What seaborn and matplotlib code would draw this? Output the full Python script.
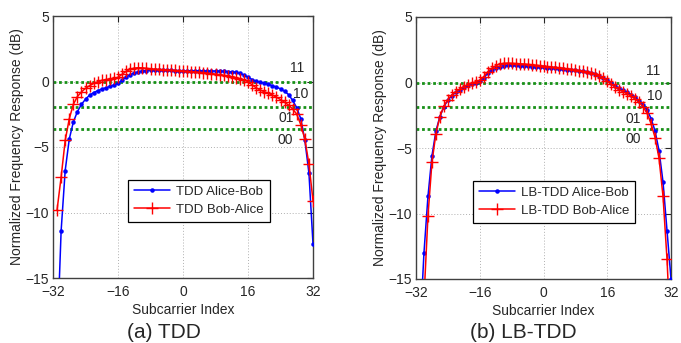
import numpy as np
import pandas as pd
import matplotlib
matplotlib.use("Agg")
import matplotlib.pyplot as plt
import seaborn as sns

# ---------------- data ----------------
subcarriers = list(range(-31, 33))

tdd_alice_bob = [-20.0, -11.4, -6.8, -4.4, -3.1, -2.3, -1.75, -1.35, -1.05, -0.85,
                 -0.7, -0.58, -0.48, -0.38, -0.28, -0.15, 0.1, 0.35, 0.52, 0.65,
                 0.74, 0.8, 0.83, 0.85, 0.85, 0.85, 0.85, 0.84, 0.84, 0.83,
                 0.83, 0.82, 0.82, 0.82, 0.82, 0.81, 0.81, 0.8, 0.8, 0.8,
                 0.79, 0.78, 0.76, 0.74, 0.7, 0.62, 0.5, 0.33, 0.15, 0.02,
                 -0.05, -0.13, -0.22, -0.32, -0.43, -0.56, -0.75, -1.0, -1.45, -2.0,
                 -2.85, -4.5, -7.0, -12.4]
tdd_bob_alice = [-9.8, -7.3, -4.5, -2.85, -1.75, -1.15, -0.8, -0.52, -0.32, -0.15,
                 -0.02, 0.08, 0.15, 0.2, 0.25, 0.32, 0.55, 0.78, 0.92, 1.02,
                 1.05, 1.04, 1.0, 0.97, 0.94, 0.92, 0.9, 0.88, 0.86, 0.84,
                 0.82, 0.8, 0.78, 0.75, 0.73, 0.7, 0.67, 0.63, 0.6, 0.56,
                 0.52, 0.47, 0.42, 0.36, 0.3, 0.22, 0.12, -0.02, -0.25, -0.48,
                 -0.65, -0.78, -0.9, -1.03, -1.2, -1.38, -1.58, -1.8, -2.1, -2.5,
                 -3.3, -4.4, -6.3, -9.1]
lbtdd_alice_bob = [-19.0, -13.0, -8.7, -5.6, -3.7, -2.6, -1.85, -1.35, -1.0, -0.75,
                   -0.55, -0.38, -0.22, -0.1, 0.0, 0.1, 0.35, 0.7, 0.95, 1.12,
                   1.22, 1.28, 1.3, 1.3, 1.3, 1.28, 1.26, 1.24, 1.22, 1.2,
                   1.18, 1.15, 1.12, 1.1, 1.07, 1.04, 1.01, 0.98, 0.95, 0.92,
                   0.88, 0.84, 0.8, 0.74, 0.65, 0.53, 0.38, 0.18, -0.05, -0.28,
                   -0.45, -0.6, -0.75, -0.92, -1.12, -1.38, -1.7, -2.1, -2.75, -3.7,
                   -5.2, -7.6, -11.3, -15.0]
lbtdd_bob_alice = [-24.0, -16.5, -10.2, -6.1, -3.9, -2.6, -1.8, -1.3, -0.95, -0.7,
                   -0.5, -0.32, -0.16, -0.04, 0.06, 0.18, 0.45, 0.82, 1.08, 1.28,
                   1.4, 1.46, 1.47, 1.46, 1.45, 1.43, 1.41, 1.38, 1.35, 1.32,
                   1.29, 1.25, 1.22, 1.18, 1.15, 1.12, 1.08, 1.04, 1.0, 0.96,
                   0.91, 0.86, 0.8, 0.72, 0.62, 0.5, 0.33, 0.12, -0.12, -0.36,
                   -0.55, -0.7, -0.86, -1.04, -1.25, -1.52, -1.85, -2.35, -3.15, -4.2,
                   -5.8, -8.7, -13.5, -20.0]

thresholds_a = [0.0, -1.95, -3.65]
thresholds_b = [-0.05, -1.85, -3.55]
level_labels = ["11", "10", "01", "00"]
level_pos_a = [(28.1, 1.0), (29.0, -0.95), (25.4, -2.8), (25.1, -4.45)]
level_pos_b = [(27.5, 0.9), (27.8, -1.0), (22.5, -2.8), (22.5, -4.3)]

xticks = [-32, -16, 0, 16, 32]
yticks = [-15, -10, -5, 0, 5]

# ---------------- style ----------------
sns.set_style("white")
plt.rcParams['font.family'] = ['Liberation Sans', 'DejaVu Sans']

fig = plt.figure(figsize=(6.81, 3.43), dpi=100)
W, H = 681, 343
axA = fig.add_axes([53 / W, 1 - 278 / H, 260 / W, 262 / H])
axB = fig.add_axes([416 / W, 1 - 279 / H, 255 / W, 262 / H])


def draw(ax, y1, y2, names, thr, lpos, legend_bbox):
    df1 = pd.DataFrame({"x": subcarriers, "y": y1})
    df2 = pd.DataFrame({"x": subcarriers, "y": y2})
    sns.lineplot(data=df1, x="x", y="y", ax=ax, color="#0000ff", marker=".",
                 markersize=6.5, markeredgecolor="#0000ff", markeredgewidth=0,
                 markerfacecolor="#0000ff", linewidth=1.1, label=names[0], zorder=3)
    sns.lineplot(data=df2, x="x", y="y", ax=ax, color="#ff0000", marker="+",
                 markersize=8, markeredgecolor="#ff0000", markeredgewidth=1.0,
                 linewidth=1.1, label=names[1], zorder=4)
    for t in thr:
        ax.axhline(t, color="#179017", linestyle=(0, (1, 1)), linewidth=2.0, zorder=2)
    for lab, (px, py) in zip(level_labels, lpos):
        ax.text(px, py, lab, fontsize=10, ha="center", va="center")
    ax.set_xlim(-32, 32)
    ax.set_ylim(-15, 5)
    ax.set_xticks(xticks)
    ax.set_yticks(yticks)
    ax.grid(True, color="#b0b0b0", linestyle=(0, (1, 2)), linewidth=0.7, zorder=0)
    ax.tick_params(axis="both", direction="in", top=True, right=True, labelsize=10,
                   length=4, width=0.8)
    ax.tick_params(axis="x", pad=5)
    ax.tick_params(axis="y", pad=3)
    ax.set_xlabel("Subcarrier Index", fontsize=10, labelpad=3)
    ax.set_ylabel("Normalized Frequency Response (dB)", fontsize=10, labelpad=1)
    for s in ax.spines.values():
        s.set_color("#404040")
        s.set_linewidth(1.0)
    leg = ax.legend(loc="lower left", bbox_to_anchor=legend_bbox,
                    bbox_transform=fig.transFigure, fontsize=9.5, frameon=True,
                    fancybox=False, edgecolor="black", framealpha=1,
                    handlelength=2.7, borderpad=0.45, labelspacing=0.45,
                    handletextpad=0.5, borderaxespad=0)
    leg.get_frame().set_linewidth(0.9)


draw(axA, tdd_alice_bob, tdd_bob_alice, ["TDD Alice-Bob", "TDD Bob-Alice"],
     thresholds_a, level_pos_a, (128 / W, 1 - 222 / H))
draw(axB, lbtdd_alice_bob, lbtdd_bob_alice, ["LB-TDD Alice-Bob", "LB-TDD Bob-Alice"],
     thresholds_b, level_pos_b, (473 / W, 1 - 223 / H))

fig.text(164 / W, 1 - 332 / H, "(a) TDD", fontsize=15, ha="center", va="center")
fig.text(523 / W, 1 - 332 / H, "(b) LB-TDD", fontsize=15, ha="center", va="center")

fig.savefig("out.png", dpi=100)
